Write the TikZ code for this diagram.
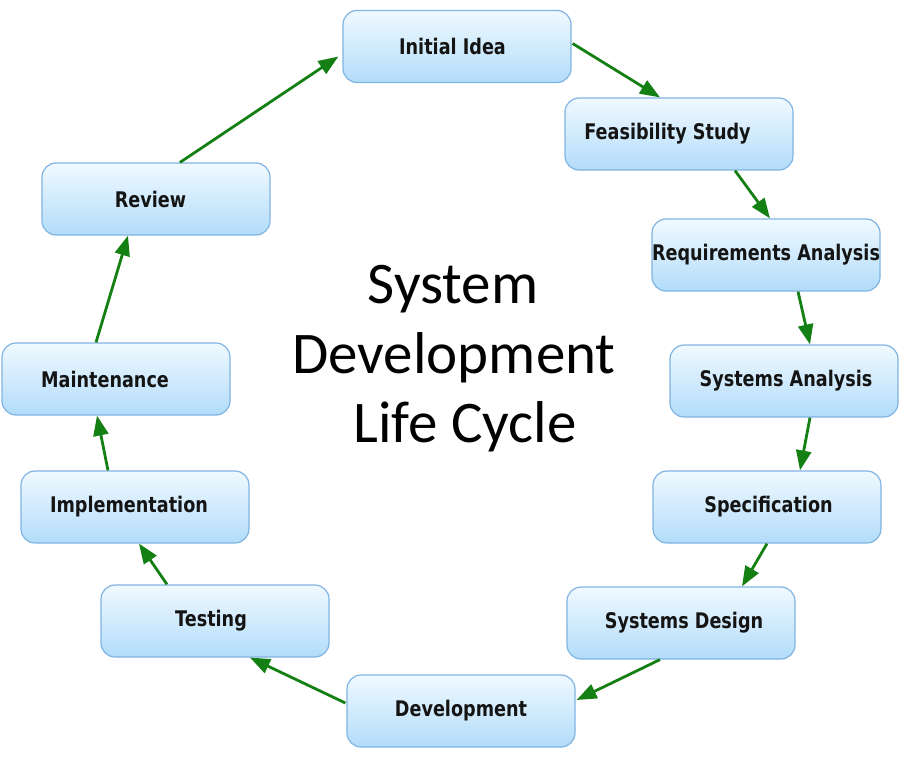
\documentclass[tikz,border=0pt]{standalone}
\usepackage{fontspec}
\usetikzlibrary{arrows.meta,calc}
\newfontfamily\boxfont{DejaVu Sans}[FakeStretch=0.82]
\newfontfamily\titlefont{Carlito}
\definecolor{boxborder}{RGB}{128,180,226}
\definecolor{boxtop}{RGB}{240,249,255}
\definecolor{boxbottom}{RGB}{178,220,250}
\definecolor{arrowgreen}{RGB}{20,128,20}
\definecolor{boxtext}{RGB}{20,20,20}
\tikzset{
  stagebox/.style={draw=boxborder, line width=1.2pt, rounded corners=14pt,
    top color=boxtop, bottom color=boxbottom, minimum width=228pt,
    minimum height=72pt, inner xsep=0pt, text=boxtext,
    font=\boxfont\bfseries\fontsize{21.5pt}{24pt}\selectfont},
  flow/.style={draw=arrowgreen, line width=2.8pt,
    -{Triangle[length=20pt,width=15pt]}, shorten >=0pt},
  titletext/.style={anchor=base, inner sep=0pt,
    font=\titlefont\fontsize{59pt}{70pt}\selectfont}
}
\newcommand{\padleft}[2]{\hspace*{#1}#2}
\newcommand{\padright}[2]{#2\hspace*{#1}}
\begin{document}
\begin{tikzpicture}[x=1pt,y=-1pt]
\useasboundingbox (0,0) rectangle (900,760);
\node[stagebox] (init)  at (457,46.5) {\padright{9pt}{Initial Idea}};
\node[stagebox] (feas)  at (679,134)  {\padright{23pt}{Feasibility Study}};
\node[stagebox] (req)   at (766,255)  {Requirements Analysis};
\node[stagebox] (sa)    at (784,381)  {\padleft{4pt}{Systems Analysis}};
\node[stagebox] (spec)  at (767,507)  {\padleft{3pt}{Specification}};
\node[stagebox] (des)   at (681,623)  {\padleft{6pt}{Systems Design}};
\node[stagebox] (dev)   at (461,711)  {Development};
\node[stagebox] (test)  at (215,621)  {\padright{8pt}{Testing}};
\node[stagebox] (impl)  at (135,507)  {\padright{12pt}{Implementation}};
\node[stagebox] (maint) at (116,379)  {\padright{22pt}{Maintenance}};
\node[stagebox] (rev)   at (156,199)  {\padright{11pt}{Review}};

\node[titletext] (t1) at (453,303) {System};
\node[titletext] (t2) at (454,373) {Development};
\node[titletext] (t3) at (465,442) {Life Cycle};

\draw[flow] ($(init.east)+(1,-3)$) -- ($(feas.north)+(-19,0)$);
\draw[flow] ($(feas.south)+(56,0)$) -- ($(req.north)+(4,0)$);
\draw[flow] ($(req.south)+(32,0)$) -- ($(sa.north)+(26,0)$);
\draw[flow] ($(sa.south)+(26,0)$) -- ($(spec.north)+(33,0)$);
\draw[flow] (spec.south) -- ($(des.north)+(61,0)$);
\draw[flow] ($(des.south)+(-21,0)$) -- ($(dev.east)+(1,-11)$);
\draw[flow] ($(dev.west)+(-1,-8)$) -- ($(test.south)+(35,0)$);
\draw[flow] ($(test.north)+(-48,0)$) -- ($(impl.south)+(4,0)$);
\draw[flow] ($(impl.north)+(-27,0)$) -- ($(maint.south)+(-19,0)$);
\draw[flow] ($(maint.north)+(-20,0)$) -- ($(rev.south)+(-28,0)$);
\draw[flow] ($(rev.north)+(24,0)$) -- ($(init.west)+(-4,10)$);
\end{tikzpicture}
\end{document}
